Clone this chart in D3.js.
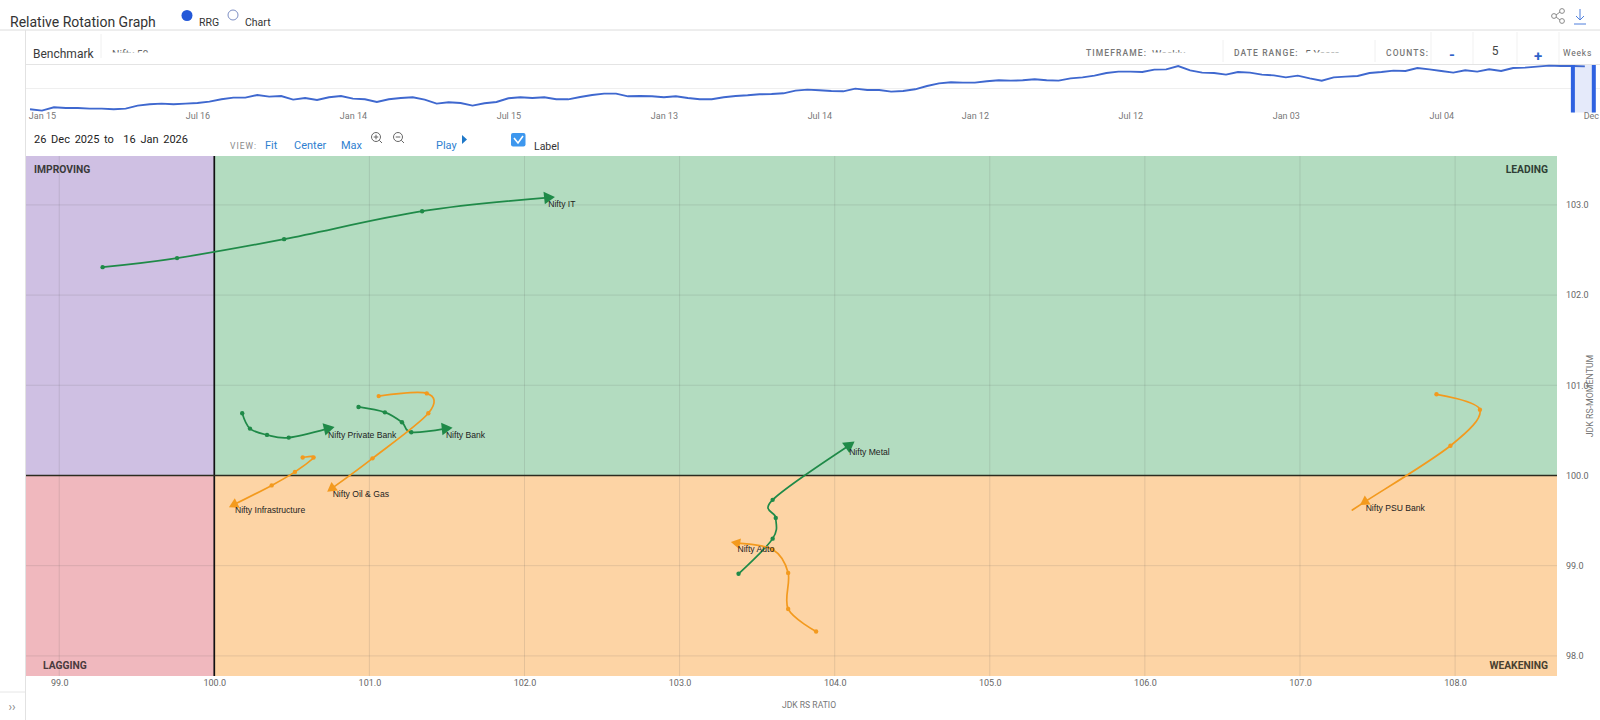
<!DOCTYPE html>
<html><head><meta charset="utf-8">
<script src="https://cdn.jsdelivr.net/npm/d3@7"></script>
<style>
html,body{margin:0;padding:0;background:#fff;overflow:hidden}
svg{display:block}
text{font-family:Roboto,"Noto Sans",sans-serif}
</style></head><body>
<script>
const xTicks=[99,100,101,102,103,104,105,106,107,108];
const yTicks=[98,99,100,101,102,103];
const benchLabels=["Jan 15","Jul 16","Jan 14","Jul 15","Jan 13","Jul 14","Jan 12","Jul 12","Jan 03","Jul 04","Dec"];
const benchLabelIdx=[1,14,27,40,53,66,79,92,105,118,130.5];
const benchValues=[12,8,18,16,16,14,14,12,14,23,27,29,27,29,31,35,42,47,47,55,50,52,41,46,40,48,52,44,42,34,42,46,48,41,
29,33,31,23,30,34,45,48,46,48,42,42,49,55,59,59,51,52,51,48,51,46,42,42,48,52,54,57,58,60,68,71,69,67,66,74,70,70,65,67,72,82,90,93,92,92,96,99,98,99,102,99,98,105,108,113,121,125,125,124,131,132,142,129,122,121,116,124,122,116,114,108,113,105,98,108,110,112,121,124,128,127,136,132,127,122,129,125,132,127,136,137,140,143,142,142,141];
const brushRange=[129.0,130.75];

const seriesNames=["Nifty IT","Nifty Private Bank","Nifty Bank","Nifty Oil & Gas","Nifty Infrastructure","Nifty Metal","Nifty Auto","Nifty PSU Bank"];
const seriesGroup=["up","up","up","down","down","up","down","down"];
const ratioValues=[
 [99.28,99.76,100.45,101.34,102.15],
 [100.18,100.23,100.34,100.48,100.73],
 [100.93,101.10,101.21,101.27,101.49],
 [101.06,101.37,101.38,101.02,100.76],
 [100.57,100.64,100.52,100.37,100.13],
 [103.38,103.60,103.62,103.60,104.09],
 [103.88,103.70,103.70,103.60,103.37],
 [107.88,108.16,107.97,107.42,107.34]
];
const momentumValues=[
 [102.31,102.41,102.62,102.93,103.08],
 [100.69,100.52,100.45,100.42,100.52],
 [100.76,100.70,100.59,100.48,100.52],
 [100.88,100.91,100.69,100.19,99.86],
 [100.20,100.20,100.04,99.89,99.68],
 [98.91,99.30,99.53,99.73,100.33],
 [98.27,98.52,98.92,99.18,99.25],
 [100.90,100.73,100.33,99.71,99.62]
];
const arrowIndex=[4,4,4,4,4,4,4,3];

const svg=d3.select("body").append("svg").attr("width",1600).attr("height",720);
const T=(x,y,s,o={})=>{
  const t=svg.append("text").attr("x",x).attr("y",y).text(s)
    .attr("font-size",o.size||11).attr("fill",o.fill||"#333");
  if(o.anchor)t.attr("text-anchor",o.anchor);
  if(o.weight)t.attr("font-weight",o.weight);
  if(o.ls)t.attr("letter-spacing",o.ls);
  if(o.ws)t.attr("word-spacing",o.ws);
  if(o.family)t.style("font-family",o.family);
  if(o.clip)t.attr("clip-path",o.clip);
  return t;
};
const L=(x1,y1,x2,y2,c,w=1)=>svg.append("line").attr("x1",x1).attr("y1",y1).attr("x2",x2).attr("y2",y2).attr("stroke",c).attr("stroke-width",w);

/* header */
T(10,27,"Relative Rotation Graph",{size:14,fill:"#333"});
svg.append("circle").attr("cx",187).attr("cy",15.5).attr("r",5.5).attr("fill","#2358d8");
T(199,26,"RRG",{size:10.5});
svg.append("circle").attr("cx",233).attr("cy",15).attr("r",5).attr("fill","#fff").attr("stroke","#7e8fc4");
T(245,26,"Chart",{size:10.5});
L(0,30,1600,30,"#dcdcdc");
L(25.5,30,25.5,720,"#e2e2e2");
L(0,692,25,692,"#e6e6e6");
T(12,711,"\u203A\u203A",{size:12,fill:"#888",anchor:"middle"});

/* share + download */
const share=svg.append("g").attr("fill","none").attr("stroke","#8a8a8a").attr("stroke-width",1);
[[1554,16],[1562,11],[1562,21]].forEach(p=>share.append("circle").attr("cx",p[0]).attr("cy",p[1]).attr("r",2.4));
share.append("path").attr("d","M1556 15L1560 12M1556 17L1560 20");
svg.append("path").attr("d","M1580 9V20M1576 16L1580 20L1584 16M1574 24H1586").attr("fill","none").attr("stroke","#4f7fdc").attr("stroke-width",1);

/* benchmark row */
svg.append("clipPath").attr("id","cut").append("rect").attr("x",0).attr("y",40).attr("width",1600).attr("height",12.6);
T(33,58,"Benchmark",{size:12,fill:"#3a3a3a"});
L(101,34,101,58,"#f0f0f0");
T(112,58,"Nifty 50",{size:10.5,fill:"#666",clip:"url(#cut)"});
T(1086,56,"TIMEFRAME:",{size:8.5,fill:"#777",ls:1.1,weight:500});
T(1152,58,"Weekly",{size:10.5,fill:"#666",clip:"url(#cut)"});
L(1223,40,1223,62,"#f0f0f0");
T(1234,56,"DATE RANGE:",{size:8.5,fill:"#777",ls:1.1,weight:500});
T(1305,58,"5 Years",{size:10.5,fill:"#666",clip:"url(#cut)"});
L(1375,40,1375,62,"#f0f0f0");
T(1386,56,"COUNTS:",{size:8.5,fill:"#777",ls:1.1,weight:500});
[1431,1473,1517,1559].forEach(x=>L(x,32,x,64,"#f1f1f1"));
T(1452,60,"-",{size:15,fill:"#2f62c8",anchor:"middle",weight:700});
T(1495,55,"5",{size:12,fill:"#444",anchor:"middle"});
T(1538,61,"+",{size:15,fill:"#2f62c8",anchor:"middle",weight:700});
T(1563,56,"Weeks",{size:8.5,fill:"#666",ls:.8});

/* benchmark strip */
L(26,64.5,1600,64.5,"#e4e4e4");
L(26,88.5,1600,88.5,"#efefef");
const bx=d3.scaleLinear().domain([0,131]).range([30,1596.8]);
const by=d3.scaleLinear().domain([0,160]).range([113.3,60]);
svg.append("rect").attr("x",bx(brushRange[0])).attr("y",65).attr("width",bx(brushRange[1])-bx(brushRange[0])).attr("height",47.5).attr("fill","#e5eafa");
svg.append("path").datum(benchValues)
  .attr("d",d3.line().x((d,i)=>bx(i)).y(d=>by(d)))
  .attr("fill","none").attr("stroke","#3f68cf").attr("stroke-width",1.9);
brushRange.forEach(b=>svg.append("rect").attr("x",bx(b)-2).attr("y",65).attr("width",4).attr("height",47.5).attr("fill","#2f62e0"));
const bAxis=svg.append("g").attr("transform","translate(0,108)")
  .call(d3.axisBottom(bx).tickValues(benchLabelIdx).tickFormat((d,i)=>benchLabels[i]).tickSize(0).tickPadding(5));
bAxis.select(".domain").remove();
bAxis.selectAll("text").attr("font-size",9).attr("fill","#777").style("font-family","Roboto,sans-serif");

/* toolbar */
T(34,143,"26 Dec 2025 to  16 Jan 2026",{size:11,fill:"#222",ws:2}).style("white-space","pre");
T(230,149,"VIEW:",{size:8.5,fill:"#888",ls:1});
[["Fit",265],["Center",294],["Max",341]].forEach(d=>T(d[1],149,d[0],{size:11,fill:"#2f7fd0"}));
const mag=(cx,cy,plus)=>{
  const g=svg.append("g").attr("fill","none").attr("stroke","#666").attr("stroke-width",1);
  g.append("circle").attr("cx",cx).attr("cy",cy).attr("r",4.5);
  g.append("path").attr("d",`M${cx+3.3} ${cy+3.3}L${cx+6} ${cy+6}M${cx-2.3} ${cy}H${cx+2.3}`+(plus?`M${cx} ${cy-2.3}V${cy+2.3}`:""));
};
mag(376,137,true);mag(398,137,false);
T(436,149,"Play",{size:11,fill:"#2f7fd0"});
svg.append("path").attr("d","M462 135L467 139.5L462 144Z").attr("fill","#1f78c8");
svg.append("rect").attr("x",511).attr("y",133).attr("width",14.5).attr("height",13.5).attr("rx",2).attr("fill","#3d97ee");
svg.append("path").attr("d","M514 138L518 143L523 136").attr("fill","none").attr("stroke","#fff").attr("stroke-width",1.6);
T(534,150,"Label",{size:10.5,fill:"#333"});

/* RRG plot */
const P={l:26,r:1557,t:156,b:676};
const x=d3.scaleLinear().domain([98.786,108.657]).range([P.l,P.r]);
const y=d3.scaleLinear().domain([97.777,103.542]).range([P.b,P.t]);
const quad=[[P.l,x(100),P.t,y(100),"#cfc0e3"],[x(100),P.r,P.t,y(100),"#b3dcc0"],[P.l,x(100),y(100),P.b,"#f0b8be"],[x(100),P.r,y(100),P.b,"#fdd4a5"]];
svg.selectAll("rect.q").data(quad).join("rect").attr("class","q")
  .attr("x",d=>d[0]).attr("width",d=>d[1]-d[0]).attr("y",d=>d[2]).attr("height",d=>d[3]-d[2]).attr("fill",d=>d[4]);

const gridC="rgba(90,90,90,.15)";
svg.selectAll("line.gx").data(xTicks).join("line").attr("class","gx")
  .attr("x1",d=>x(d)).attr("x2",d=>x(d)).attr("y1",P.t).attr("y2",P.b).attr("stroke",gridC);
svg.selectAll("line.gy").data(yTicks).join("line").attr("class","gy")
  .attr("x1",P.l).attr("x2",P.r).attr("y1",d=>y(d)).attr("y2",d=>y(d)).attr("stroke",gridC);
L(x(100),P.t,x(100),P.b,"#111",1.7);
L(P.l,y(100),P.r,y(100),"#2c2c20",1.6);

const xa=svg.append("g").attr("transform",`translate(0,${P.b})`)
  .call(d3.axisBottom(x).tickValues(xTicks).tickFormat(d3.format(".1f")).tickSize(0).tickPadding(4));
xa.select(".domain").remove();
xa.selectAll("text").attr("font-size",9).attr("fill","#666").style("font-family","Roboto,sans-serif");
const ya=svg.append("g").attr("transform",`translate(${P.r},0)`)
  .call(d3.axisRight(y).tickValues(yTicks).tickFormat(d3.format(".1f")).tickSize(0).tickPadding(9));
ya.select(".domain").remove();
ya.selectAll("text").attr("font-size",9).attr("fill","#666").style("font-family","Roboto,sans-serif");

T(809,708,"JDK RS RATIO",{size:8.6,fill:"#777",anchor:"middle"});
T(0,0,"JDK RS-MOMENTUM",{size:8.8,fill:"#777",anchor:"middle"}).attr("transform","translate(1593,396) rotate(-90)");

T(34,173,"IMPROVING",{size:10.3,weight:700,fill:"#3a3a3a"});
T(1548,173,"LEADING",{size:10.3,weight:700,fill:"#2f3f35",anchor:"end"});
T(43,669,"LAGGING",{size:10.3,weight:700,fill:"#4a3a3d"});
T(1548,669,"WEAKENING",{size:10.3,weight:700,fill:"#4a3f30",anchor:"end"});

const colour={up:"#1f8a48",down:"#f39a1e"};
const line=d3.line().x(d=>x(d[0])).y(d=>y(d[1])).curve(d3.curveCatmullRom.alpha(0));
seriesNames.forEach((name,s)=>{
  const pts=ratioValues[s].map((v,i)=>[v,momentumValues[s][i]]);
  const c=colour[seriesGroup[s]];
  const ai=arrowIndex[s];
  svg.append("path").datum(pts).attr("d",line).attr("fill","none").attr("stroke",c).attr("stroke-width",1.7);
  svg.selectAll(null).data(pts.slice(0,ai)).join("circle")
    .attr("cx",d=>x(d[0])).attr("cy",d=>y(d[1])).attr("r",2.2).attr("fill",c);
  const a=pts[ai],p=pts[ai-1];
  const ang=Math.atan2(y(a[1])-y(p[1]),x(a[0])-x(p[0]))*180/Math.PI+90;
  svg.append("path").attr("d",d3.symbol(d3.symbolTriangle,seriesGroup[s]==="up"?68:50)())
    .attr("transform",`translate(${x(a[0])},${y(a[1])}) rotate(${ang})`).attr("fill",c);
  T(x(a[0])+0.5,y(a[1])+9,name,{size:8.6,fill:"#222",family:'"Liberation Sans",Arial,sans-serif'});
});
</script>
</body></html>
